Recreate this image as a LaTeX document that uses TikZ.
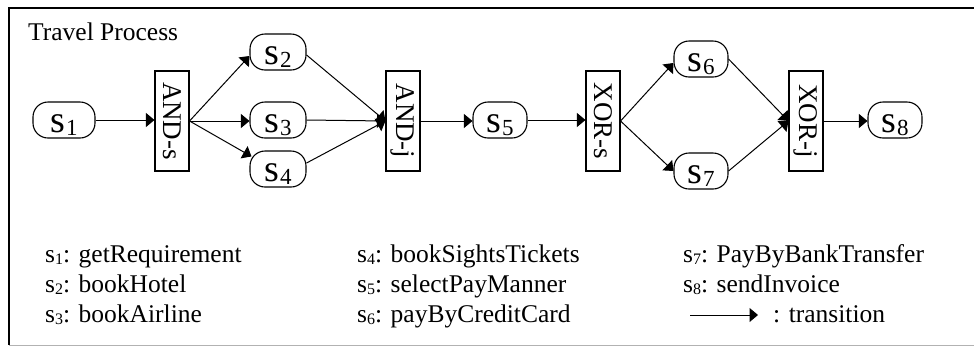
\documentclass[tikz,border=0pt]{standalone}
\usepackage{fontspec}
\usepackage{graphicx}
\setmainfont{Liberation Serif}
\usetikzlibrary{arrows.meta}
% state label: large s with a lowered index
\newcommand\stname[1]{{\fontsize{38}{38}\selectfont s}\hspace{1pt}\raisebox{-3pt}{\fontsize{23}{23}\selectfont #1}}
% small lowered index used in the legend
\newcommand\lgsub[1]{\raisebox{-2pt}{\fontsize{16}{16}\selectfont #1}}
\begin{document}
\begin{tikzpicture}[x=1pt,y=-1pt,
  state/.style={draw,line width=1.1pt,rounded corners=15pt,minimum width=56pt,
    minimum height=36pt,inner sep=0pt,text height=28pt,text depth=4pt},
  gate/.style={draw,line width=1.1pt,minimum width=34pt,minimum height=100pt,
    inner sep=0pt,font=\fontsize{27}{27}\selectfont},
  flow/.style={line width=1pt,-{Triangle[length=8.5pt,width=14pt]}},
  legend/.style={anchor=base west,inner sep=0pt,font=\fontsize{25.5}{25.5}\selectfont}]
\useasboundingbox (0,0) rectangle (974,346);

% frame
\draw[line width=1.1pt] (990,8) -- (9,8) -- (9,345);
\draw[gray!60,line width=1pt] (9,345) -- (990,345);

\node[legend] (title) at (28,40) {Travel Process};

% states and gates
\node[state,minimum width=62pt] (s1) at (64,120) {\stname{1}};
\node[gate] (ands) at (172,121) {\rotatebox{-90}{AND-s}};
\node[state] (s2) at (278,52) {\stname{2}};
\node[state] (s3) at (278,120) {\stname{3}};
\node[state] (s4) at (278,169) {\stname{4}};
\node[gate] (andj) at (403,121) {\rotatebox{-90}{AND-j}};
\node[state,minimum width=54pt] (s5) at (500,120) {\stname{5}};
\node[gate] (xors) at (603,121) {\rotatebox{-90}{XOR-s}};
\node[state,minimum width=54pt] (s6) at (701,59) {\stname{6}};
\node[state,minimum width=54pt] (s7) at (701,171) {\stname{7}};
\node[gate] (xorj) at (806,121) {\rotatebox{-90}{XOR-j}};
\node[state,minimum width=54pt] (s8) at (895,120) {\stname{8}};

% transitions
\draw[flow] (s1.east) -- (s1.east -| ands.west);
\draw[flow] (ands.east) -- ([yshift=-4pt]s2.west);
\draw[flow] (ands.east) -- (ands.east -| s3.west);
\draw[flow] (ands.east) -- ([xshift=2pt,yshift=-6pt]s4.north west);
\draw[flow] ([yshift=-3pt]s2.east) -- (andj.west);
\draw[flow] (s3.east) -- (andj.west);
\draw[flow] ([yshift=6pt]s4.east) -- (andj.west);
\draw[flow] (andj.east) -- (andj.east -| s5.west);
\draw[flow] (s5.east) -- (s5.east -| xors.west);
\draw[flow] (xors.east) -- ([yshift=-4pt]s6.west);
\draw[flow] (xors.east) -- (s7.west);
\draw[flow] (s6.east) -- (xorj.west);
\draw[flow] (s7.east) -- (xorj.west);
\draw[flow] (xorj.east) -- (xorj.east -| s8.west);

% legend
\node[legend] (l1) at (45,262) {s\lgsub{1}: getRequirement};
\node[legend] (l2) at (45,292) {s\lgsub{2}: bookHotel};
\node[legend] (l3) at (45,322) {s\lgsub{3}: bookAirline};
\node[legend] (l4) at (357,262) {s\lgsub{4}: bookSightsTickets};
\node[legend] (l5) at (357,292) {s\lgsub{5}: selectPayManner};
\node[legend] (l6) at (357,322) {s\lgsub{6}: payByCreditCard};
\node[legend] (l7) at (683,262) {s\lgsub{7}: PayByBankTransfer};
\node[legend] (l8) at (683,292) {s\lgsub{8}: sendInvoice};
\coordinate (ta) at (690,315);
\coordinate (tb) at (758,315);
\draw[flow] (ta) -- (tb);
\node[legend] (lt) at (773,322) {: transition};
\end{tikzpicture}
\end{document}
